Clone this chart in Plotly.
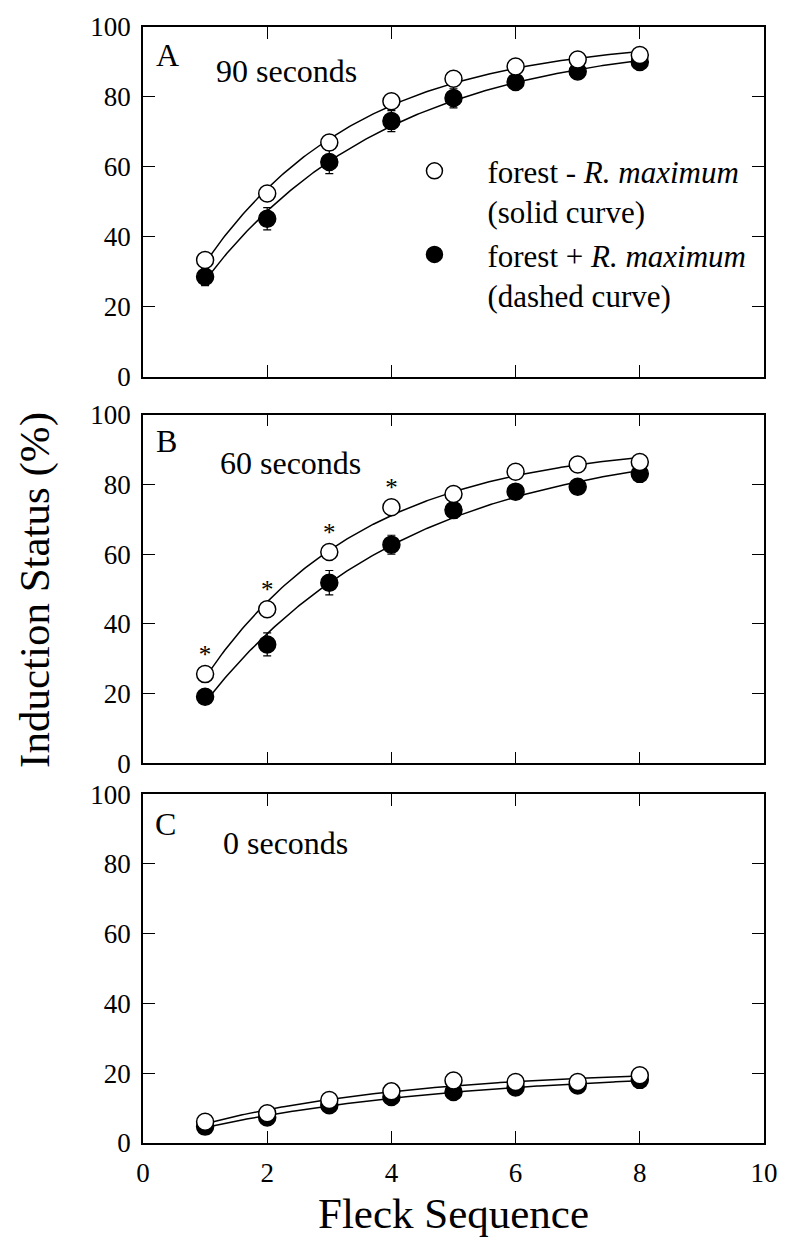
import numpy as np
import plotly.graph_objects as go

# ---------------- data ----------------
fleck = [1, 2, 3, 4, 5, 6, 7, 8]

# Panel A: 90 seconds
a_open = [33.4, 52.4, 67.0, 78.8, 85.2, 88.7, 90.7, 92.0]
a_open_err = [1.0, 1.0, 1.0, 1.0, 1.0, 1.0, 1.0, 1.0]
a_fill = [28.6, 45.2, 61.4, 73.1, 79.7, 84.3, 87.3, 90.0]
a_fill_err = [2.5, 3.2, 3.3, 3.0, 2.8, 1.5, 1.5, 1.5]

# Panel B: 60 seconds
b_open = [25.6, 44.2, 60.6, 73.4, 77.2, 83.6, 85.7, 86.4]
b_open_err = [1.0, 1.0, 1.0, 1.0, 1.0, 1.0, 1.0, 1.0]
b_fill = [19.1, 34.1, 51.8, 62.7, 72.6, 77.9, 79.3, 83.0]
b_fill_err = [1.5, 3.3, 3.5, 2.7, 2.4, 1.5, 1.5, 1.5]
b_sig = [1, 2, 3, 4]  # fleck numbers marked with *

# Panel C: 0 seconds
c_open = [6.1, 8.5, 12.3, 14.8, 17.9, 17.5, 17.5, 19.4]
c_open_err = [0.8, 0.8, 0.8, 0.8, 0.8, 0.8, 0.8, 0.8]
c_fill = [4.7, 7.3, 10.8, 13.2, 14.6, 15.9, 16.5, 18.1]
c_fill_err = [0.8, 0.8, 0.8, 0.8, 1.0, 0.8, 0.8, 0.8]

panel_letters = ["A", "B", "C"]
panel_labels = ["90 seconds", "60 seconds", "0 seconds"]
x_ticks = [0, 2, 4, 6, 8, 10]
y_ticks = [0, 20, 40, 60, 80, 100]

FONT = "Liberation Serif, Times New Roman, serif"


def fit_curve(x, y):
    """least-squares fit of y = A - B*exp(-k x)"""
    x = np.asarray(x, float)
    y = np.asarray(y, float)
    best = None
    for k in np.linspace(0.01, 2.0, 800):
        M = np.column_stack([np.ones_like(x), -np.exp(-k * x)])
        coef, *_ = np.linalg.lstsq(M, y, rcond=None)
        sse = float(np.sum((M @ coef - y) ** 2))
        if best is None or sse < best[0]:
            best = (sse, coef, k)
    _, (A, B), k = best
    xs = np.linspace(min(x), max(x), 200)
    return xs, A - B * np.exp(-k * xs)


fig = go.Figure()

panels = [
    (a_open, a_open_err, a_fill, a_fill_err),
    (b_open, b_open_err, b_fill, b_fill_err),
    (c_open, c_open_err, c_fill, c_fill_err),
]

for i, (op, ope, fi, fie) in enumerate(panels):
    xa = "x" if i == 0 else f"x{i+1}"
    ya = "y" if i == 0 else f"y{i+1}"
    for series in (op, fi):
        xs, ys = fit_curve(fleck, series)
        fig.add_trace(go.Scatter(x=xs, y=ys, mode="lines",
                                 line=dict(color="black", width=1.5),
                                 showlegend=False, hoverinfo="skip",
                                 xaxis=xa, yaxis=ya))
    fig.add_trace(go.Scatter(
        x=fleck, y=fi, mode="markers",
        marker=dict(symbol="circle", size=17, color="black",
                    line=dict(color="black", width=1.5)),
        error_y=dict(type="data", array=fie, color="black", thickness=1.2, width=4),
        name="forest + <i>R. maximum</i><br>(dashed curve)",
        legendrank=2, showlegend=(i == 0), xaxis=xa, yaxis=ya))
    fig.add_trace(go.Scatter(
        x=fleck, y=op, mode="markers",
        marker=dict(symbol="circle", size=17, color="white",
                    line=dict(color="black", width=1.5)),
        error_y=dict(type="data", array=ope, color="black", thickness=1.2, width=4),
        name="forest - <i>R. maximum</i><br>(solid curve)",
        legendrank=1, showlegend=(i == 0), xaxis=xa, yaxis=ya))

# significance asterisks (panel B)
sig_y = [b_open[fleck.index(s)] + 5.0 for s in b_sig]
fig.add_trace(go.Scatter(x=b_sig, y=sig_y, mode="text", text=["*"] * len(b_sig),
                         textfont=dict(family=FONT, size=25, color="black"),
                         textposition="middle center", showlegend=False,
                         hoverinfo="skip", xaxis="x2", yaxis="y2"))

# layout
H = 1238
top, bot = 17, 1143
span = bot - top
doms = [(17, 370), (408, 760), (791, 1143)]


def dom(t, b):
    return [(bot - b) / span, (bot - t) / span]


layout = dict(
    width=790, height=H,
    margin=dict(l=143, r=15, t=top, b=H - bot),
    paper_bgcolor="white", plot_bgcolor="white",
    font=dict(family=FONT, size=27, color="black"),
    showlegend=True,
    legend=dict(x=0.384, y=0.895, xanchor="left", yanchor="top",
                bgcolor="rgba(0,0,0,0)", font=dict(family=FONT, size=31),
                traceorder="normal", itemwidth=96, tracegroupgap=6,
                valign="top"),
)

axis_common = dict(
    showline=True, linecolor="black", linewidth=1.5, mirror="ticks",
    ticks="inside", ticklen=12, tickwidth=1.2, tickcolor="black",
    showgrid=False, zeroline=False,
    tickfont=dict(family=FONT, size=27, color="black"),
)

for i, (t, b) in enumerate(doms):
    sx = "" if i == 0 else str(i + 1)
    layout[f"xaxis{sx}"] = dict(
        axis_common, range=[0, 10], tickvals=x_ticks,
        domain=[0, 1], anchor=f"y{sx}",
        showticklabels=(i == 2), ticklabelstandoff=5,
    )
    layout[f"yaxis{sx}"] = dict(
        axis_common, range=[0, 100], tickvals=y_ticks,
        domain=dom(t, b), anchor=f"x{sx}", ticklabelstandoff=5,
    )

fig.update_layout(**layout)

letter_pos = [(0.18, 92.0), (0.18, 92.3), (0.16, 91.5)]
label_pos = [(1.15, 87.5), (1.2, 86.0), (1.25, 86.0)]
for i in range(3):
    sx = "" if i == 0 else str(i + 1)
    fig.add_annotation(x=letter_pos[i][0], y=letter_pos[i][1], xref=f"x{sx}", yref=f"y{sx}",
                       text=panel_letters[i], showarrow=False, xanchor="left", yanchor="middle",
                       font=dict(family=FONT, size=32, color="black"))
    fig.add_annotation(x=label_pos[i][0], y=label_pos[i][1], xref=f"x{sx}", yref=f"y{sx}",
                       text=panel_labels[i], showarrow=False, xanchor="left", yanchor="middle",
                       font=dict(family=FONT, size=32, color="black"))

fig.add_annotation(x=-0.174, y=(bot - 585) / span, xref="paper", yref="paper",
                   text="Induction Status (%)", textangle=-90, showarrow=False,
                   xanchor="center", yanchor="middle",
                   font=dict(family=FONT, size=43, color="black"))
fig.add_annotation(x=0.5, y=(bot - 1214) / span, xref="paper", yref="paper",
                   text="Fleck Sequence", showarrow=False,
                   xanchor="center", yanchor="middle",
                   font=dict(family=FONT, size=43, color="black"))

fig.write_html("out.html")
